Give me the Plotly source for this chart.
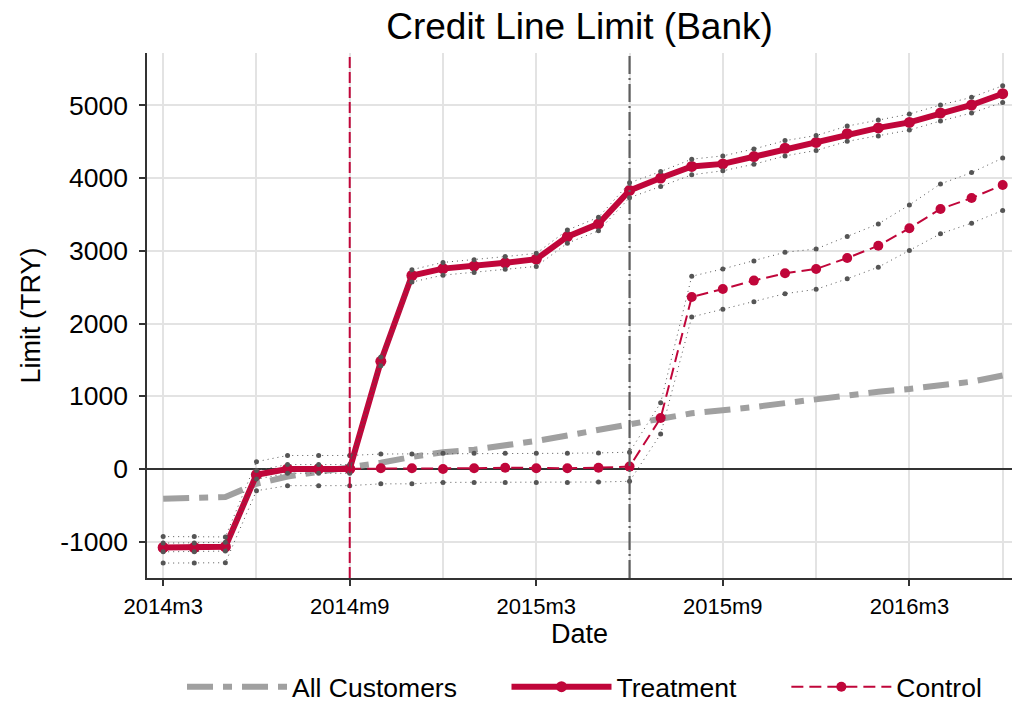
import plotly.graph_objects as go

# Monthly observation labels, 2014m3 .. 2016m6
months = [f"{y}m{m}" for y, m in
          [(2014, m) for m in range(3, 13)] +
          [(2015, m) for m in range(1, 13)] +
          [(2016, m) for m in range(1, 7)]]

all_customers = [-410, -405, -385, -205, -105, -40, 20, 85, 165, 230, 265, 320, 385, 460,
                 530, 605, 690, 765, 800, 850, 905, 960, 1005, 1060, 1100, 1140, 1200, 1285]

treatment = [-1080, -1080, -1070, -80, 0, 0, 0, 1480, 2660, 2755, 2790, 2835, 2885, 3195,
             3370, 3830, 4000, 4160, 4195, 4295, 4410, 4490, 4610, 4690, 4765, 4895, 5005, 5160]
treatment_hi = [-1020, -1020, -1010, -20, 60, 60, 60, 1540, 2740, 2840, 2875, 2920, 2965, 3285,
                3460, 3935, 4090, 4260, 4305, 4400, 4515, 4585, 4715, 4800, 4880, 5005, 5110, 5270]
treatment_lo = [-1140, -1140, -1130, -140, -60, -60, -60, 1420, 2570, 2665, 2700, 2745, 2785, 3105,
                3275, 3730, 3885, 4045, 4100, 4190, 4305, 4380, 4505, 4580, 4660, 4785, 4895, 5040]

control = [-1090, -1090, -1080, -90, 0, 0, 0, 10, 10, 0, 10, 17, 10, 10,
           17, 32, 700, 2365, 2475, 2590, 2690, 2750, 2900, 3070, 3310, 3575, 3725, 3905]
control_hi = [-930, -930, -935, 100, 185, 185, 185, 205, 205, 215, 215, 215, 215, 215,
              220, 230, 910, 2650, 2750, 2860, 2980, 3025, 3195, 3370, 3630, 3920, 4075, 4275]
control_lo = [-1295, -1295, -1290, -300, -230, -230, -230, -205, -205, -185, -185, -185, -185, -185,
              -180, -170, 480, 2090, 2195, 2300, 2410, 2470, 2615, 2775, 3005, 3235, 3380, 3555]

y_ticks = [-1000, 0, 1000, 2000, 3000, 4000, 5000]
x_tick_labels = ["2014m3", "2014m9", "2015m3", "2015m9", "2016m3"]
event_months = ["2014m9", "2015m6"]

RED = "#C0063A"
GRAY = "#A0A0A0"
CI_GRAY = "#555555"
FONT = "Liberation Sans, Arial, Helvetica, sans-serif"

x = list(range(len(months)))

fig = go.Figure()

fig.add_trace(go.Scatter(
    x=x, y=all_customers, name="All Customers", mode="lines",
    line=dict(color=GRAY, width=6, dash="26px,10px,9px,10px"),
    legend="legend",
))
fig.add_trace(go.Scatter(
    x=x, y=control, name="Control", mode="lines+markers",
    line=dict(color=RED, width=2, dash="12px,6px"),
    marker=dict(color=RED, size=10),
    legend="legend3",
))
fig.add_trace(go.Scatter(
    x=x, y=treatment, name="Treatment", mode="lines+markers",
    line=dict(color=RED, width=6),
    marker=dict(color=RED, size=11),
    legend="legend2",
))

# confidence bands: dotted lines with small dots
for band in (treatment_hi, treatment_lo, control_hi, control_lo):
    fig.add_trace(go.Scatter(
        x=x, y=band, mode="lines+markers", showlegend=False, hoverinfo="skip",
        line=dict(color=CI_GRAY, width=1, dash="1px,4px"),
        marker=dict(color=CI_GRAY, size=5),
    ))

# reference lines for the two event months
fig.add_shape(type="line", xref="x", yref="paper",
              x0=months.index(event_months[0]), x1=months.index(event_months[0]), y0=0, y1=1,
              line=dict(color=RED, width=2, dash="11px,4px"), layer="above")
fig.add_shape(type="line", xref="x", yref="paper",
              x0=months.index(event_months[1]), x1=months.index(event_months[1]), y0=0, y1=1,
              line=dict(color="#5E5E5E", width=2.2, dash="18px,4px,2px,4px"), layer="above")


def legend_box(xpos):
    return dict(orientation="h", xref="container", yref="container",
                x=xpos, xanchor="left", y=0.0214, yanchor="middle",
                font=dict(size=26.5), itemwidth=100, bgcolor="rgba(0,0,0,0)")


fig.update_layout(
    width=1014, height=702,
    paper_bgcolor="white", plot_bgcolor="white",
    margin=dict(l=147, r=2, t=53, b=124, autoexpand=False),
    font=dict(family=FONT, color="black"),
    title=dict(text="Credit Line Limit (Bank)", x=0.5, xref="paper", xanchor="center",
               y=0.963, yanchor="middle", font=dict(size=37, color="black")),
    showlegend=True,
    legend=legend_box(0.1795),
    legend2=legend_box(0.4995),
    legend3=legend_box(0.7755),
)

fig.update_xaxes(
    range=[-0.52, 27.3],
    tickmode="array",
    tickvals=[months.index(m) for m in x_tick_labels],
    ticktext=x_tick_labels,
    ticks="outside", ticklen=6, tickwidth=1.5, tickcolor="#333",
    tickfont=dict(size=22),
    ticklabelstandoff=2,
    showline=True, linecolor="#333", linewidth=1.5,
    showgrid=True, gridcolor="#E3E3E3", gridwidth=1.5,
    minor=dict(dtick=3, tick0=0, showgrid=True, gridcolor="#E3E3E3", gridwidth=1.5, ticks=""),
    zeroline=False,
    title=dict(text="Date", font=dict(size=27), standoff=5),
)
fig.update_yaxes(
    range=[-1500, 5720],
    tickmode="array",
    tickvals=y_ticks,
    ticktext=[str(v) for v in y_ticks],
    ticks="outside", ticklen=6, tickwidth=1.5, tickcolor="#333",
    tickfont=dict(size=26.5),
    ticklabelstandoff=6,
    showline=True, linecolor="#333", linewidth=1.5,
    showgrid=True, gridcolor="#E3E3E3", gridwidth=1.5,
    zeroline=True, zerolinecolor="#333", zerolinewidth=1.5,
    title=dict(text="Limit (TRY)", font=dict(size=27), standoff=12),
)

fig.write_html("out.html")
